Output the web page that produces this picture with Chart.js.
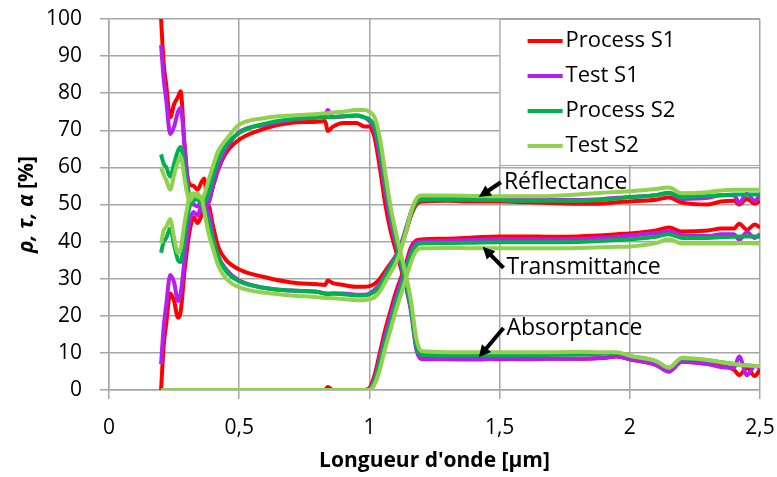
<!DOCTYPE html>
<html>
<head>
<meta charset="utf-8">
<script src="https://cdn.jsdelivr.net/npm/chart.js@4"></script>
<style>
  html, body { margin: 0; padding: 0; background: #fff; }
  #wrap { width: 777px; height: 477px; }
</style>
</head>
<body>
<div id="wrap"><canvas id="chartSpectre"></canvas></div>
<script>
// Longueur d'onde (µm)
const lambda = [0.2, 0.21, 0.22, 0.235, 0.25, 0.265, 0.275, 0.29, 0.3, 0.31,
  0.325, 0.34, 0.355, 0.365, 0.38, 0.4, 0.42, 0.45, 0.5,
  0.6, 0.7, 0.8, 0.83, 0.84, 0.86, 0.9, 0.95, 0.98,
  1.0, 1.02, 1.04, 1.06, 1.08, 1.1, 1.12, 1.14, 1.16, 1.18, 1.2,
  1.3, 1.4, 1.5, 1.6, 1.7, 1.8, 1.9, 1.95, 2.0, 2.1, 2.15, 2.2,
  2.3, 2.35, 2.4, 2.42, 2.45, 2.48, 2.5]

const xTickLabels = ['0', '0,5', '1', '1,5', '2', '2,5']

// Process S1
const aProcS1 = [100, 88, 82, 73.5, 77, 79, 80.5, 66, 58, 55.5,
  55, 54, 56, 57, 50.5, 55, 59.5, 64, 67.5,
  70.5, 72, 72.3, 72.5, 69.8, 71, 72, 72, 71,
  71, 68, 60, 50.5, 43.3, 38, 33, 28, 22, 12, 8.5,
  8.4, 8.5, 8.3, 8.5, 8.5, 8.4, 8.6, 9, 8.3, 6.8, 5, 7.6,
  7, 6.5, 5.5, 4, 6, 3.8, 5.5]
const rProcS1 = [0, 12, 18, 26, 24, 19.5, 21, 32, 38, 43,
  46.5, 45, 47, 48.5, 50, 44, 38.5, 35, 32.5,
  30.4, 29, 28.5, 28.3, 29.5, 28.8, 28.3, 27.8, 27.8,
  28, 28.6, 30, 32, 34, 36, 38.5, 42.5, 47, 50, 50.8,
  51, 50.8, 50.8, 50.6, 50.4, 50.2, 50.3, 50.6, 50.8, 51.3, 51.9, 50.5,
  50, 50.8, 51, 50, 51.5, 50.2, 51]
const tProcS1 = [0, 0, 0, 0, 0, 0, 0, 0, 0, 0,
  0, 0, 0, 0, 0, 0, 0, 0, 0,
  0, 0, 0, 0, 0.8, 0, 0, 0, 0,
  0.5, 4, 10, 16, 21, 26, 30, 34, 38.5, 40.3, 40.6,
  40.8, 41.1, 41.4, 41.4, 41.3, 41.4, 41.7, 42, 42.2, 43, 43.8, 42.7,
  43, 43.5, 43.5, 44.8, 43.2, 44.6, 43.8]

// Test S1
const aTestS1 = [93, 84, 78, 69, 71, 75, 76, 66, 58, 51,
  50, 49.5, 51, 49, 50, 55.5, 60, 65, 69.5,
  71.5, 72.8, 73.5, 74, 75.5, 73.5, 73.7, 74, 73.5,
  72.5, 70, 63, 54, 46, 40, 34, 28, 21, 11, 8.3,
  8.3, 8.2, 8.4, 8.3, 8.4, 8.4, 8.7, 9.1, 8.3, 6.8, 5, 7.6,
  7, 6.2, 6, 9, 4, 6.5, 6]
const rTestS1 = [7, 17, 23, 31, 29, 24, 26, 35, 41, 45.5,
  48, 47, 49.5, 48, 48.5, 41, 36, 32.5, 29.5,
  27.5, 26.8, 26.5, 26, 25.8, 26, 26, 25.7, 25.7,
  26, 27, 28.5, 31, 33.5, 36, 39, 43.5, 48, 51, 51.8,
  51.8, 51.6, 51.5, 51.3, 51.2, 51.2, 51.5, 51.8, 52, 52.5, 53, 51.5,
  51.8, 52.5, 52.5, 50.5, 52.8, 51, 52.5]
const tTestS1 = [0, 0, 0, 0, 0, 0, 0, 0, 0, 0,
  0, 0, 0, 0, 0, 0, 0, 0, 0,
  0, 0, 0, 0, 0, 0, 0, 0, 0,
  0.3, 3, 8.5, 14.5, 19.5, 24.5, 29, 33, 37.5, 39.8, 40,
  40.2, 40.4, 40.6, 40.6, 40.6, 40.7, 41, 41.3, 41.6, 42.3, 42.7, 41.8,
  41.5, 42, 42, 40.5, 42.5, 41, 42]

// Process S2
const aProcS2 = [63.5, 61, 60, 57.5, 61, 64.5, 65.5, 60, 55, 52,
  52, 51.5, 50.5, 50.5, 52.5, 57.5, 62, 66, 69.3,
  71.8, 73, 73.4, 73.5, 73.5, 73.6, 73.8, 74, 73.5,
  73, 71, 65, 56, 48, 41, 35, 29, 22, 12, 9.5,
  9.3, 9.3, 9.4, 9.4, 9.5, 9.6, 9.8, 10, 9.2, 7.8, 6, 8.5,
  8, 7.5, 7, 6.8, 6.6, 6.5, 6.5]
const rProcS2 = [37, 40, 41, 43.5, 39, 35, 34.5, 41, 46, 49.5,
  51, 51.5, 50, 49, 46, 40.5, 36, 32, 29.3,
  27.5, 26.8, 26.4, 26, 26, 26, 25.8, 25.5, 25.5,
  25.8, 26.5, 28, 30.5, 33, 35.5, 38.5, 43, 47.5, 50.5, 51.3,
  51.3, 51.3, 51.2, 51, 51, 51, 51.3, 51.6, 52, 52.5, 53.2, 52,
  52.3, 52.5, 52.7, 52.7, 52.7, 52.7, 52.7]
const tProcS2 = [0, 0, 0, 0, 0, 0, 0, 0, 0, 0,
  0, 0, 0, 0, 0, 0, 0, 0, 0,
  0, 0, 0, 0, 0, 0, 0, 0, 0,
  0.2, 2.5, 7.5, 13, 18, 23, 27.5, 32, 36.5, 39, 39.5,
  39.6, 39.7, 39.8, 39.8, 39.8, 39.9, 40.2, 40.4, 40.6, 41.3, 42, 41,
  41, 41.2, 41.3, 41.4, 41.4, 41.4, 41.4]

// Test S2
const aTestS2 = [60, 58, 56.5, 54, 58, 61.5, 63, 57, 53, 51,
  52.5, 53, 51.5, 52.5, 56, 60.5, 64.5, 67.5, 71.5,
  73.3, 74, 74.4, 74.6, 74.6, 74.8, 75, 75.5, 75.5,
  75, 73.5, 68, 59, 50, 43, 37, 31, 24, 14, 10.5,
  10.2, 10.2, 10.2, 10.2, 10.2, 10.3, 10.2, 10.2, 9.2, 7.8, 6, 8.6,
  8.1, 7.5, 7, 6.8, 6.6, 6.5, 6.5]
const rTestS2 = [39.5, 43, 44, 46, 41, 37, 38, 45, 49, 52.5,
  53, 52, 52, 48.5, 43, 38, 33.5, 30, 27.7,
  26.2, 25.5, 25, 24.8, 24.8, 24.7, 24.5, 24.2, 24.2,
  24.5, 25, 26.5, 29, 31.5, 34, 37.5, 42.5, 48, 51.5, 52.4,
  52.4, 52.3, 52.2, 52.2, 52.3, 52.7, 53.2, 53.4, 53.6, 54.2, 54.6, 53,
  53.3, 53.8, 54, 54, 54, 54, 54]
const tTestS2 = [0, 0, 0, 0, 0, 0, 0, 0, 0, 0,
  0, 0, 0, 0, 0, 0, 0, 0, 0,
  0, 0, 0, 0, 0, 0, 0, 0, 0,
  0, 1.5, 5.5, 11, 16, 21, 25.5, 30, 34.5, 37.5, 38.2,
  38.3, 38.2, 38.2, 38.2, 38.2, 38.3, 38.5, 38.6, 38.7, 39.6, 40.6, 39.5,
  39.5, 39.5, 39.5, 39.6, 39.6, 39.5, 39.5]

const seriesNames = ['Process S1', 'Test S1', 'Process S2', 'Test S2']
const seriesColors = ['#ff0000', '#b61ef0', '#00b050', '#92d050']
const seriesCurves = [
  [rProcS1, tProcS1, aProcS1],
  [rTestS1, tTestS1, aTestS1],
  [rProcS2, tProcS2, aProcS2],
  [rTestS2, tTestS2, aTestS2]
]

// etiquettes avec fleche: [texte, x pointe, y pointe, x queue, y queue] en unites des axes
const notes = [
  ['Réflectance', 1.42, 52, 1.505, 56],
  ['Transmittance', 1.435, 38.6, 1.515, 32.9],
  ['Absorptance', 1.42, 8.8, 1.515, 16.7]
]

const FONT = "'Open Sans', 'DejaVu Sans', sans-serif"

const datasets = []
seriesCurves.forEach((curves, s) => {
  curves.forEach(vals => {
    datasets.push({
      label: seriesNames[s],
      data: lambda.map((l, i) => ({ x: l, y: vals[i] })),
      borderColor: seriesColors[s],
      backgroundColor: seriesColors[s],
      borderWidth: 4,
      pointRadius: 0,
      fill: false,
      order: 3 - s, // comme Excel: la derniere serie au-dessus
      cubicInterpolationMode: 'monotone'
    })
  })
})

const decor = {
  id: 'decor',
  afterDatasetsDraw(chart) {
    const ctx = chart.ctx
    const xs = chart.scales.x, ys = chart.scales.y
    const area = chart.chartArea
    ctx.save()
    // fleches + textes
    ctx.fillStyle = '#000'
    ctx.strokeStyle = '#000'
    ctx.font = '23px ' + FONT
    ctx.textBaseline = 'middle'
    notes.forEach(n => {
      const tx = xs.getPixelForValue(n[1]), ty = ys.getPixelForValue(n[2])
      const qx = xs.getPixelForValue(n[3]), qy = ys.getPixelForValue(n[4])
      const ang = Math.atan2(ty - qy, tx - qx)
      const head = 12
      ctx.lineWidth = 4
      ctx.beginPath()
      ctx.moveTo(qx, qy)
      ctx.lineTo(tx - Math.cos(ang) * head * 0.8, ty - Math.sin(ang) * head * 0.8)
      ctx.stroke()
      ctx.beginPath()
      ctx.moveTo(tx, ty)
      ctx.lineTo(tx - head * Math.cos(ang) + 6 * Math.sin(ang), ty - head * Math.sin(ang) - 6 * Math.cos(ang))
      ctx.lineTo(tx - head * Math.cos(ang) - 6 * Math.sin(ang), ty - head * Math.sin(ang) + 6 * Math.cos(ang))
      ctx.closePath()
      ctx.fill()
      ctx.textAlign = 'left'
      ctx.fillText(n[0], qx + 3, qy)
    })

    // legende
    const bx = xs.getPixelForValue(1.5), by = area.top, bw = area.right - bx, bh = 147
    ctx.fillStyle = '#fff'
    ctx.fillRect(bx, by, bw, bh)
    ctx.strokeStyle = '#a6a6a6'
    ctx.lineWidth = 1
    ctx.strokeRect(bx + 0.5, by + 0.5, bw - 1, bh - 1)
    ctx.font = '22px ' + FONT
    ctx.textAlign = 'left'
    ctx.textBaseline = 'middle'
    seriesNames.forEach((name, i) => {
      const yy = by + 22 + i * 35
      ctx.strokeStyle = seriesColors[i]
      ctx.lineWidth = 4
      ctx.beginPath()
      ctx.moveTo(bx + 28, yy)
      ctx.lineTo(bx + 63, yy)
      ctx.stroke()
      ctx.fillStyle = '#000'
      ctx.fillText(name, bx + 66, yy)
    })

    // titre axe y
    ctx.translate(27, (area.top + area.bottom) / 2)
    ctx.rotate(-Math.PI / 2)
    const p1 = 'ρ, τ, α ', p2 = '[%]'
    ctx.font = 'italic bold 21px ' + FONT
    const w1 = ctx.measureText(p1).width
    ctx.font = 'bold 21px ' + FONT
    const w2 = ctx.measureText(p2).width
    const x0 = -(w1 + w2) / 2
    ctx.fillStyle = '#000'
    ctx.textAlign = 'left'
    ctx.textBaseline = 'middle'
    ctx.font = 'italic bold 21px ' + FONT
    ctx.fillText(p1, x0, 0)
    ctx.font = 'bold 21px ' + FONT
    ctx.fillText(p2, x0 + w1, 0)
    ctx.restore()
  }
}

new Chart(document.getElementById('chartSpectre'), {
  type: 'line',
  data: { datasets: datasets },
  options: {
    responsive: true,
    maintainAspectRatio: false,
    animation: false,
    devicePixelRatio: 1,
    layout: { padding: { top: 19, right: 17, bottom: 0, left: 0 } },
    plugins: { legend: { display: false }, tooltip: { enabled: false } },
    scales: {
      x: {
        type: 'linear',
        min: 0,
        max: 2.5,
        afterFit: s => { s.height = 87; s.paddingLeft = 0; s.paddingRight = 0 },
        ticks: {
          stepSize: 0.5,
          color: '#000',
          padding: 16,
          font: { family: FONT, size: 21 },
          callback: (v, i) => xTickLabels[i]
        },
        grid: { color: '#a6a6a6', lineWidth: 1.5, tickLength: 9 },
        border: { color: '#a6a6a6', width: 1.5 },
        title: {
          display: true,
          text: "Longueur d'onde [µm]",
          color: '#000',
          font: { family: FONT, size: 21, weight: 'bold' },
          padding: { top: 0, bottom: 3 }
        }
      },
      y: {
        min: 0,
        max: 100,
        afterFit: s => { s.width = 109; s.paddingTop = 0; s.paddingBottom = 0 },
        ticks: {
          stepSize: 10,
          color: '#000',
          padding: 18,
          font: { family: FONT, size: 21 }
        },
        grid: { color: '#a6a6a6', lineWidth: 1.5, tickLength: 9 },
        border: { color: '#a6a6a6', width: 1.5 }
      }
    }
  },
  plugins: [decor]
})
</script>
</body>
</html>
